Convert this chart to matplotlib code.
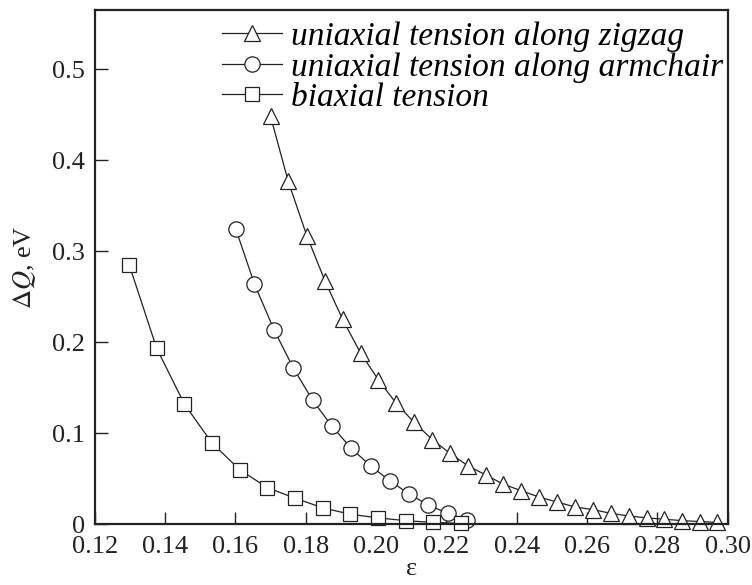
import numpy as np
import matplotlib
matplotlib.use("Agg")
import matplotlib.pyplot as plt

# --- data ---
eps_zigzag = [0.1700, 0.1750, 0.1803, 0.1855, 0.1905, 0.1956, 0.2006, 0.2057,
              0.2108, 0.2160, 0.2210, 0.2262, 0.2313, 0.2362, 0.2412, 0.2463,
              0.2514, 0.2566, 0.2618, 0.2668, 0.2720, 0.2771, 0.2820, 0.2871,
              0.2921, 0.2970]
dq_zigzag = [0.448, 0.377, 0.317, 0.267, 0.225, 0.188, 0.159, 0.133,
             0.112, 0.093, 0.078, 0.064, 0.054, 0.044, 0.037, 0.030,
             0.0245, 0.019, 0.016, 0.012, 0.009, 0.007, 0.0055, 0.004,
             0.003, 0.002]

eps_armchair = [0.1601, 0.1654, 0.1710, 0.1765, 0.1820, 0.1874, 0.1929,
                0.1985, 0.2040, 0.2095, 0.2149, 0.2204, 0.2259]
dq_armchair = [0.3245, 0.264, 0.2135, 0.1714, 0.136, 0.108, 0.0835,
               0.064, 0.0476, 0.033, 0.021, 0.012, 0.005]

eps_biaxial = [0.1298, 0.1376, 0.1455, 0.1534, 0.1613, 0.1691, 0.1770,
               0.1849, 0.1927, 0.2006, 0.2084, 0.2163, 0.2241]
dq_biaxial = [0.285, 0.1934, 0.132, 0.089, 0.0597, 0.0402, 0.0286,
              0.018, 0.011, 0.007, 0.004, 0.002, 0.001]

labels = ["uniaxial tension along zigzag",
          "uniaxial tension along armchair",
          "biaxial tension"]

x_ticks = [0.12, 0.14, 0.16, 0.18, 0.20, 0.22, 0.24, 0.26, 0.28, 0.30]
x_ticklabels = ["0.12", "0.14", "0.16", "0.18", "0.20", "0.22", "0.24",
                "0.26", "0.28", "0.30"]
y_ticks = [0, 0.1, 0.2, 0.3, 0.4, 0.5]
y_ticklabels = ["0", "0.1", "0.2", "0.3", "0.4", "0.5"]

plt.rcParams["font.family"] = ["Liberation Serif", "DejaVu Serif"]
plt.rcParams["mathtext.fontset"] = "stix"

fig = plt.figure(figsize=(7.52, 5.85), dpi=100)
ax = fig.add_axes([0.126, 0.1038, 0.8417, 0.8792])

ink = "#222222"
common = dict(color=ink, lw=0.9, markerfacecolor="white",
              markeredgecolor=ink, markeredgewidth=0.9, clip_on=False)

ax.plot(eps_zigzag, dq_zigzag, marker="^", markersize=11, label=labels[0], **common)
ax.plot(eps_armchair, dq_armchair, marker="o", markersize=11, label=labels[1], **common)
ax.plot(eps_biaxial, dq_biaxial, marker="s", markersize=9.5, label=labels[2], **common)

ax.set_xlim(0.12, 0.30)
ax.set_ylim(0, 0.565)
ax.set_xticks(x_ticks)
ax.set_xticklabels(x_ticklabels)
ax.set_yticks(y_ticks)
ax.set_yticklabels(y_ticklabels)
ax.tick_params(direction="in", length=9, width=1, labelsize=19,
               colors=ink, top=False, right=False)
ax.tick_params(axis="x", pad=8.5)
ax.tick_params(axis="y", pad=7)

for side in ["left", "right", "top", "bottom"]:
    ax.spines[side].set_linewidth(1.6)
    ax.spines[side].set_color(ink)

ax.set_xlabel("ε", fontsize=19, labelpad=0, color=ink)
ax.set_ylabel(r"$\Delta Q$, eV", fontsize=19, labelpad=10, color=ink)

leg = ax.legend(loc="upper left", bbox_to_anchor=(0.295, 0.963),
                bbox_transform=fig.transFigure, frameon=False,
                prop={"style": "italic", "size": 24},
                handlelength=1.8, handletextpad=0.27, labelspacing=0.0,
                borderpad=0, borderaxespad=0)

fig.savefig("out.png", dpi=100)
